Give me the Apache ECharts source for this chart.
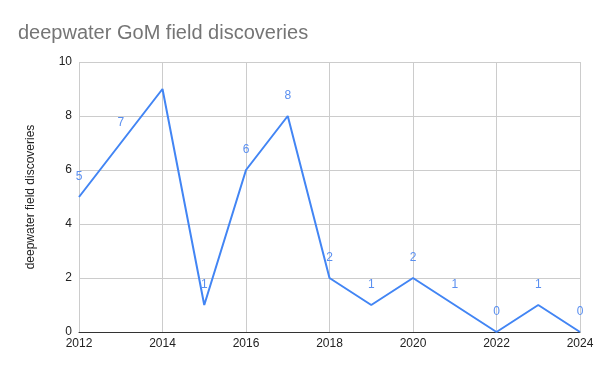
<!DOCTYPE html>
<html><head><meta charset="utf-8">
<script src="https://cdn.jsdelivr.net/npm/echarts@6/dist/echarts.min.js"></script>
<style>html,body{margin:0;padding:0;background:#fff}#c{width:600px;height:371px}</style>
</head><body><div id="c"></div>
<script>
const years = [2012,2013,2014,2015,2016,2017,2018,2019,2020,2021,2022,2023,2024];
const discoveries = [5,7,9,1,6,8,2,1,2,1,0,1,0];
const hiddenLabelYears = [2014];
const yTicks = {min:0, max:10, interval:2};
const xTicks = {min:2012, max:2024, interval:2};

const chart = echarts.init(document.getElementById('c'));
const font = 'Liberation Sans, Arial, sans-serif';
chart.setOption({
  animation:false,
  title:{text:'deepwater GoM field discoveries', left:13, top:18,
    textStyle:{fontFamily:font, fontSize:20, fontWeight:'normal', color:'#757575'}},
  grid:{left:79, right:20, top:62, bottom:39},
  xAxis:{type:'value', min:xTicks.min, max:xTicks.max, interval:xTicks.interval,
    axisLine:{show:true, onZero:false, lineStyle:{color:'#333', width:1}},
    axisTick:{show:false},
    axisLabel:{color:'#222', fontFamily:font, fontSize:12, margin:6, formatter:v=>String(v)},
    splitLine:{show:true, lineStyle:{color:'#cccccc'}}},
  yAxis:{type:'value', min:yTicks.min, max:yTicks.max, interval:yTicks.interval,
    name:'deepwater field discoveries', nameLocation:'middle', nameGap:42,
    nameTextStyle:{color:'#222', fontFamily:font, fontSize:12},
    axisLine:{show:false}, axisTick:{show:false},
    axisLabel:{color:'#222', fontFamily:font, fontSize:12, margin:7},
    splitLine:{show:true, lineStyle:{color:'#cccccc'}}},
  series:[{
    type:'line',
    data: years.map((y,i)=>({value:[y,discoveries[i]],
      label:{show: hiddenLabelYears.indexOf(y)<0}})),
    symbol:'circle', symbolSize:0, showSymbol:true,
    lineStyle:{color:'#4285F4', width:2},
    itemStyle:{color:'#4285F4'},
    label:{show:true, position:'top', distance:14, color:'#5a8ff0', fontFamily:font, fontSize:12,
      formatter:p=>String(p.value[1])}
  }]
});
</script></body></html>
